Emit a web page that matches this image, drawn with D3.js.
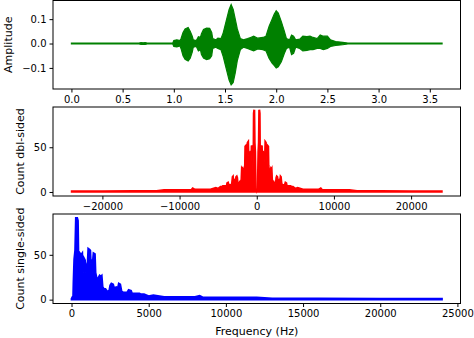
<!DOCTYPE html>
<html>
<head>
<meta charset="utf-8">
<script src="https://cdn.jsdelivr.net/npm/d3@7"></script>
<style>
body{margin:0;background:#fff;}
text{font-family:"DejaVu Sans",sans-serif;fill:#000;}
</style>
</head>
<body>
<div id="chart"></div>
<script>
// waveform envelope (seconds, upper, lower)
var waveTime  = [0.0,0.66,0.68,0.70,0.72,0.74,0.99,1.00,1.03,1.06,1.07,1.09,1.11,1.14,1.16,1.18,1.19,1.22,1.24,1.26,1.27,1.29,1.32,1.35,1.37,1.38,1.41,1.43,1.46,1.48,1.51,1.54,1.56,1.58,1.60,1.62,1.65,1.68,1.72,1.75,1.78,1.82,1.87,1.90,1.93,1.96,1.98,2.00,2.02,2.05,2.08,2.10,2.13,2.15,2.17,2.19,2.23,2.26,2.30,2.33,2.36,2.40,2.43,2.46,2.50,2.53,2.58,2.65,2.70,3.62];
var waveUpper = [0.002,0.002,0.004,0.003,0.004,0.002,0.002,0.012,0.015,0.012,0.02,0.045,0.06,0.066,0.05,0.03,0.015,0.012,0.028,0.025,0.04,0.058,0.063,0.062,0.045,0.02,0.015,0.022,0.02,0.04,0.09,0.14,0.16,0.14,0.10,0.06,0.02,0.015,0.02,0.025,0.03,0.022,0.025,0.03,0.07,0.10,0.12,0.134,0.125,0.09,0.05,0.02,0.015,0.035,0.03,0.015,0.018,0.03,0.028,0.03,0.025,0.02,0.035,0.03,0.03,0.015,0.008,0.005,0.002,0.002];
var waveLower = [-0.002,-0.002,-0.004,-0.003,-0.004,-0.002,-0.002,-0.012,-0.014,-0.010,-0.02,-0.05,-0.065,-0.072,-0.06,-0.035,-0.015,-0.012,-0.03,-0.025,-0.045,-0.06,-0.066,-0.062,-0.05,-0.02,-0.015,-0.02,-0.025,-0.05,-0.10,-0.15,-0.17,-0.16,-0.12,-0.07,-0.025,-0.015,-0.02,-0.025,-0.03,-0.022,-0.025,-0.03,-0.06,-0.08,-0.09,-0.10,-0.095,-0.075,-0.04,-0.02,-0.015,-0.045,-0.04,-0.015,-0.02,-0.03,-0.028,-0.025,-0.025,-0.02,-0.02,-0.025,-0.02,-0.012,-0.008,-0.005,-0.002,-0.002];

// single-sided spectrum envelope (Hz, count)
var specFreq  = [0,60,100,120,170,230,280,320,360,420,460,500,540,620,700,740,780,820,880,920,980,1040,1080,1160,1220,1260,1300,1340,1380,1420,1520,1560,1620,1700,1760,1820,1900,1960,2020,2100,2200,2320,2440,2500,2580,2700,2760,2900,3000,3060,3160,3250,3400,3600,3700,3860,3920,4200,4400,4500,4700,5000,5300,6000,8000,8300,8500,10000,12000,13000,16000,20000,24000];
var specCount = [1,3,3,18,45,55,92,70,92,88,40,24,52,50,52,35,30,46,44,30,38,42,57,56,55,40,45,30,44,52,51,30,25,22,25,27,26,27,14,12,12,9,10,16,18,17,13,14,13,18,17,9,8,8,11,10,7,7,7,6,6,4,5,3,3,4.5,2.5,2.5,2.5,1.5,1.5,1.2,1];

var timeTicks = [0,0.5,1,1.5,2,2.5,3,3.5];
var ampTicks = [-0.1,0,0.1];
var dblTicks = [-20000,-10000,0,10000,20000];
var singleTicks = [0,5000,10000,15000,20000,25000];
var countTicks = [0,50];

var width = 474, height = 338, left = 53, right = 460.5;

var svg = d3.select("#chart").append("svg")
    .attr("width",width)
    .attr("height",height);

function panel(top,bottom,xDomain,yDomain,xTicks,yTicks,xFmt,yFmt,ylabel,labelX){
    var x = d3.scaleLinear().domain(xDomain).range([left,right]);
    var y = d3.scaleLinear().domain(yDomain).range([bottom,top]);
    var g = svg.append("g");
    g.append("g")
        .attr("transform","translate(0,"+bottom+")")
        .call(d3.axisBottom(x).tickValues(xTicks).tickFormat(xFmt).tickSize(3.5).tickPadding(3).tickSizeOuter(0))
        .call(a=>a.select(".domain").remove());
    g.append("g")
        .attr("transform","translate("+left+",0)")
        .call(d3.axisLeft(y).tickValues(yTicks).tickFormat(yFmt).tickSize(3.5).tickPadding(3).tickSizeOuter(0))
        .call(a=>a.select(".domain").remove());
    g.selectAll(".tick text").attr("font-size",10).attr("font-family","DejaVu Sans");
    g.append("text")
        .attr("transform","translate("+labelX+","+((top+bottom)/2)+") rotate(-90)")
        .attr("text-anchor","middle")
        .attr("dy","0.35em")
        .attr("font-size",11)
        .text(ylabel);
    return {x:x,y:y,g:g,top:top,bottom:bottom};
}

function frame(p){
    p.g.append("rect")
        .attr("x",left).attr("y",p.top)
        .attr("width",right-left).attr("height",p.bottom-p.top)
        .attr("fill","none").attr("stroke","#000").attr("stroke-width",1);
}

// waveform
var p1 = panel(0.5,89,[-0.18,3.80],[-0.1865,0.1765],timeTicks,ampTicks,d3.format(".1f"),d3.format(".1f"),"Amplitude",8);
var wave = waveTime.map((t,i)=>({t:t,hi:waveUpper[i],lo:waveLower[i]}));
p1.g.append("path")
    .datum(wave)
    .attr("fill","green")
    .attr("stroke","green")
    .attr("stroke-width",1.2)
    .attr("d",d3.area().x(d=>p1.x(d.t)).y0(d=>p1.y(d.lo)).y1(d=>p1.y(d.hi)));
frame(p1);

// double-sided spectrum (mirror of positive half)
var p2 = panel(107,196,[-26400,26400],[-4.5,95],dblTicks,countTicks,d3.format("d"),d3.format("d"),"Count dbl-sided",20);
var dbl = specFreq.slice().reverse().map((f,i)=>({f:-f,c:specCount[specFreq.length-1-i]}))
    .concat(specFreq.map((f,i)=>({f:f,c:specCount[i]})));
p2.g.append("path")
    .datum(dbl)
    .attr("fill","red")
    .attr("stroke","red")
    .attr("stroke-width",1.5)
    .attr("d",d3.area().x(d=>p2.x(d.f)).y0(p2.y(0)).y1(d=>p2.y(d.c)));
frame(p2);

// single-sided spectrum
var p3 = panel(214,303.5,[-1200,25200],[-4.3,95.5],singleTicks,countTicks,d3.format("d"),d3.format("d"),"Count single-sided",20);
var single = specFreq.map((f,i)=>({f:f,c:specCount[i]}));
p3.g.append("path")
    .datum(single)
    .attr("fill","blue")
    .attr("stroke","blue")
    .attr("stroke-width",1.8)
    .attr("d",d3.area().x(d=>p3.x(d.f)).y0(p3.y(0)).y1(d=>p3.y(d.c)));
frame(p3);

svg.append("text")
    .attr("x",(left+right)/2)
    .attr("y",331)
    .attr("text-anchor","middle")
    .attr("dy","0.35em")
    .attr("font-size",11)
    .text("Frequency (Hz)");
</script>
</body>
</html>
